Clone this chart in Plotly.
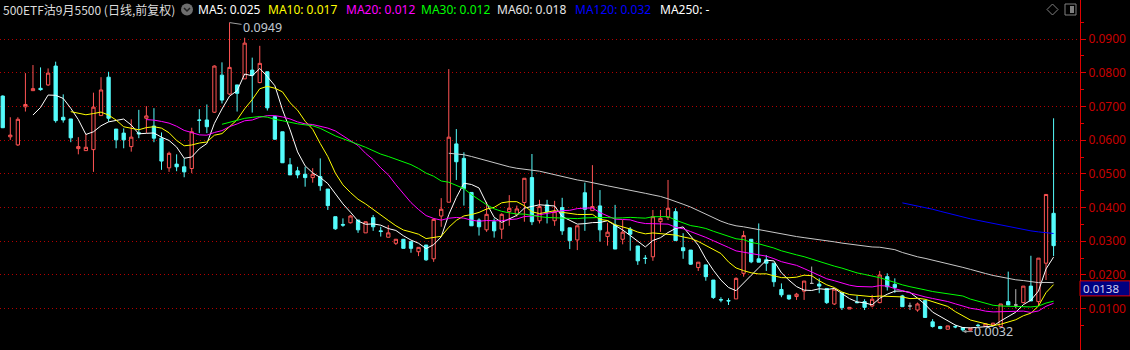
import pandas as pd
import plotly.graph_objects as go

# ---------------- data ----------------
opens = [0.0731, 0.0610, 0.0586, 0.0699, 0.0747, 0.0754, 0.0764, 0.0820, 0.0668, 0.0663,
         0.0575, 0.0569, 0.0572, 0.0673, 0.0787, 0.0633, 0.0621, 0.0581, 0.0622, 0.0665,
         0.0642, 0.0606, 0.0518, 0.0529, 0.0521, 0.0516, 0.0660, 0.0660, 0.0683, 0.0793,
         0.0737, 0.0764, 0.0782, 0.0808, 0.0771, 0.0803, 0.0670, 0.0625, 0.0527, 0.0509,
         0.0499, 0.0489, 0.0492, 0.0455, 0.0373, 0.0350, 0.0355, 0.0363, 0.0325, 0.0370,
         0.0331, 0.0312, 0.0294, 0.0306, 0.0299, 0.0269, 0.0289, 0.0248, 0.0375, 0.0416,
         0.0589, 0.0546, 0.0445, 0.0363, 0.0334, 0.0358, 0.0336, 0.0388, 0.0380, 0.0415,
         0.0489, 0.0361, 0.0408, 0.0361, 0.0400, 0.0340, 0.0304, 0.0444, 0.0391, 0.0405,
         0.0314, 0.0348, 0.0306, 0.0336, 0.0286, 0.0250, 0.0254, 0.0358, 0.0371, 0.0388,
         0.0281, 0.0274, 0.0222, 0.0230, 0.0185, 0.0127, 0.0124, 0.0129, 0.0205, 0.0306,
         0.0248, 0.0245, 0.0235, 0.0157, 0.0140, 0.0136, 0.0152, 0.0175, 0.0173, 0.0160,
         0.0114, 0.0147, 0.0099, 0.0119, 0.0121, 0.0108, 0.0118, 0.0195, 0.0172, 0.0138,
         0.0108, 0.0096, 0.0124, 0.0061, 0.0047, 0.0039, 0.0047, 0.0044, 0.0036, 0.0051,
         0.0047, 0.0050, 0.0047, 0.0121, 0.0111, 0.0118, 0.0167, 0.0121, 0.0235, 0.0383]
highs = [0.0733, 0.0668, 0.0668, 0.0799, 0.0823, 0.0816, 0.0813, 0.0833, 0.0736, 0.0663,
         0.0609, 0.0618, 0.0741, 0.0787, 0.0803, 0.0633, 0.0635, 0.0662, 0.0690, 0.0701,
         0.0695, 0.0623, 0.0566, 0.0558, 0.0546, 0.0637, 0.0692, 0.0706, 0.0822, 0.0831,
         0.0949, 0.0764, 0.0904, 0.0845, 0.0880, 0.0803, 0.0670, 0.0625, 0.0547, 0.0521,
         0.0521, 0.0517, 0.0546, 0.0455, 0.0373, 0.0368, 0.0378, 0.0363, 0.0358, 0.0378,
         0.0343, 0.0348, 0.0307, 0.0306, 0.0299, 0.0282, 0.0289, 0.0368, 0.0428, 0.0811,
         0.0633, 0.0564, 0.0446, 0.0368, 0.0417, 0.0368, 0.0383, 0.0437, 0.0406, 0.0487,
         0.0559, 0.0423, 0.0423, 0.0420, 0.0429, 0.0340, 0.0346, 0.0474, 0.0526, 0.0452,
         0.0355, 0.0408, 0.0363, 0.0342, 0.0286, 0.0259, 0.0393, 0.0393, 0.0482, 0.0398,
         0.0324, 0.0274, 0.0238, 0.0230, 0.0185, 0.0134, 0.0131, 0.0193, 0.0331, 0.0306,
         0.0353, 0.0259, 0.0235, 0.0175, 0.0140, 0.0147, 0.0182, 0.0225, 0.0190, 0.0160,
         0.0158, 0.0147, 0.0104, 0.0138, 0.0128, 0.0141, 0.0212, 0.0205, 0.0190, 0.0141,
         0.0118, 0.0118, 0.0124, 0.0069, 0.0049, 0.0049, 0.0052, 0.0045, 0.0043, 0.0055,
         0.0055, 0.0058, 0.0114, 0.0210, 0.0158, 0.0167, 0.0257, 0.0250, 0.0439, 0.0665]
lows = [0.0636, 0.0601, 0.0583, 0.0685, 0.0747, 0.0747, 0.0761, 0.0652, 0.0652, 0.0594,
        0.0558, 0.0569, 0.0506, 0.0673, 0.0655, 0.0576, 0.0576, 0.0566, 0.0606, 0.0621,
        0.0594, 0.0512, 0.0506, 0.0508, 0.0490, 0.0502, 0.0621, 0.0621, 0.0681, 0.0709,
        0.0734, 0.0685, 0.0782, 0.0682, 0.0769, 0.0688, 0.0601, 0.0533, 0.0497, 0.0487,
        0.0462, 0.0474, 0.0450, 0.0393, 0.0334, 0.0343, 0.0353, 0.0325, 0.0325, 0.0331,
        0.0314, 0.0312, 0.0289, 0.0279, 0.0266, 0.0256, 0.0242, 0.0239, 0.0343, 0.0416,
        0.0482, 0.0406, 0.0346, 0.0317, 0.0328, 0.0311, 0.0307, 0.0346, 0.0373, 0.0358,
        0.0348, 0.0353, 0.0353, 0.0346, 0.0319, 0.0277, 0.0274, 0.0331, 0.0391, 0.0299,
        0.0287, 0.0277, 0.0291, 0.0272, 0.0230, 0.0233, 0.0242, 0.0328, 0.0363, 0.0302,
        0.0248, 0.0230, 0.0212, 0.0183, 0.0129, 0.0119, 0.0111, 0.0129, 0.0195, 0.0235,
        0.0238, 0.0212, 0.0165, 0.0134, 0.0126, 0.0126, 0.0126, 0.0175, 0.0146, 0.0114,
        0.0111, 0.0096, 0.0099, 0.0116, 0.0096, 0.0104, 0.0116, 0.0154, 0.0147, 0.0106,
        0.0096, 0.0091, 0.0074, 0.0044, 0.0039, 0.0039, 0.0042, 0.0032, 0.0035, 0.0042,
        0.0047, 0.0049, 0.0047, 0.0111, 0.0101, 0.0116, 0.0123, 0.0108, 0.0185, 0.0256]
closes = [0.0637, 0.0615, 0.0662, 0.0706, 0.0753, 0.0750, 0.0799, 0.0658, 0.0660, 0.0607,
          0.0581, 0.0579, 0.0698, 0.0749, 0.0665, 0.0601, 0.0601, 0.0609, 0.0619, 0.0672,
          0.0606, 0.0538, 0.0561, 0.0521, 0.0506, 0.0625, 0.0659, 0.0640, 0.0820, 0.0719,
          0.0816, 0.0739, 0.0888, 0.0793, 0.0828, 0.0696, 0.0603, 0.0533, 0.0497, 0.0497,
          0.0489, 0.0499, 0.0465, 0.0406, 0.0337, 0.0348, 0.0375, 0.0334, 0.0358, 0.0343,
          0.0329, 0.0325, 0.0306, 0.0279, 0.0279, 0.0282, 0.0245, 0.0365, 0.0395, 0.0609,
          0.0536, 0.0457, 0.0346, 0.0343, 0.0380, 0.0331, 0.0380, 0.0398, 0.0396, 0.0487,
          0.0358, 0.0403, 0.0388, 0.0388, 0.0331, 0.0302, 0.0346, 0.0395, 0.0403, 0.0334,
          0.0327, 0.0277, 0.0327, 0.0321, 0.0242, 0.0249, 0.0373, 0.0368, 0.0398, 0.0302,
          0.0272, 0.0232, 0.0238, 0.0195, 0.0133, 0.0126, 0.0123, 0.0190, 0.0317, 0.0239,
          0.0238, 0.0235, 0.0180, 0.0141, 0.0129, 0.0143, 0.0182, 0.0175, 0.0167, 0.0118,
          0.0158, 0.0103, 0.0104, 0.0118, 0.0104, 0.0128, 0.0200, 0.0165, 0.0163, 0.0106,
          0.0108, 0.0114, 0.0074, 0.0047, 0.0041, 0.0049, 0.0046, 0.0037, 0.0042, 0.0050,
          0.0055, 0.0057, 0.0114, 0.0111, 0.0111, 0.0167, 0.0123, 0.0250, 0.0439, 0.0287]

ma_periods = [5, 10, 20, 30, 60, 120, 250]
ma_colors = ["#FFFFFF", "#FFFF00", "#FF00FF", "#00FF00", "#C8C8C8", "#0000FF", "#FFFFFF"]
header_title = "500ETF沽9月5500 (日线,前复权)"
header_labels = ["MA5: 0.025", "MA10: 0.017", "MA20: 0.012", "MA30: 0.012",
                 "MA60: 0.018", "MA120: 0.032", "MA250: -"]
price_ticks = [0.01, 0.02, 0.03, 0.04, 0.05, 0.06, 0.07, 0.08, 0.09]
price_minor_ticks = [0.005, 0.015, 0.025, 0.035, 0.045, 0.055, 0.065, 0.075, 0.085, 0.095]
price_tick_labels = ["0.0100", "0.0200", "0.0300", "0.0400", "0.0500",
                     "0.0600", "0.0700", "0.0800", "0.0900"]
marker_price = 0.0138
marker_label = "0.0138"

# ---------------- styling / layout constants ----------------
W, H = 1130, 350
PLOT_R = 1080
RED = "#FF5454"
CYAN = "#54FCFC"
GRAY = "#B4B4B4"
AXIS_RED = "#E00000"
FONT = "Noto Sans, Noto Sans CJK SC, sans-serif"
CJK_FONT = "Noto Sans CJK SC, Noto Sans, sans-serif"


def px(x):
    return x / PLOT_R


def py(y):
    return 1 - y / H


df = pd.DataFrame(dict(o=opens, h=highs, l=lows, c=closes))
df["i"] = range(len(df))
flat = df["o"] == df["c"]
moving = df[~flat]
dojis = df[flat]

fig = go.Figure()
fig.add_trace(go.Candlestick(
    x=moving["i"], open=moving["o"], high=moving["h"], low=moving["l"], close=moving["c"],
    increasing=dict(line=dict(color=RED, width=1), fillcolor="#000000"),
    decreasing=dict(line=dict(color=CYAN, width=1), fillcolor=CYAN),
    whiskerwidth=0, showlegend=False))
fig.add_trace(go.Candlestick(
    x=dojis["i"], open=dojis["o"], high=dojis["h"], low=dojis["l"], close=dojis["c"],
    increasing=dict(line=dict(color=GRAY, width=1), fillcolor=GRAY),
    decreasing=dict(line=dict(color=GRAY, width=1), fillcolor=GRAY),
    whiskerwidth=0, showlegend=False))

for n, col in zip(ma_periods, ma_colors):
    ma = df["c"].rolling(n).mean()
    if ma.notna().any():
        fig.add_trace(go.Scatter(x=df["i"], y=ma, mode="lines",
                                 line=dict(color=col, width=1), showlegend=False,
                                 hoverinfo="skip"))

span = PLOT_R / 7.56
x0 = -2.74 / 7.56
fig.update_layout(
    width=W, height=H,
    margin=dict(l=0, r=W - PLOT_R, t=0, b=0, pad=0),
    paper_bgcolor="#000000", plot_bgcolor="#000000",
    showlegend=False, boxgap=0.38,
    font=dict(family=FONT, size=12, color="#FFFFFF"),
    xaxis=dict(range=[x0, x0 + span], visible=False, showgrid=False, zeroline=False,
               rangeslider=dict(visible=False)),
    yaxis=dict(side="right", range=[-0.00226, 0.101602],
               tickvals=price_ticks, ticktext=price_tick_labels,
               showgrid=True, gridcolor="#B40000", gridwidth=1, griddash="1px,3px",
               zeroline=False, showline=True, linecolor=AXIS_RED, linewidth=1,
               ticks="outside", ticklen=5, tickwidth=1, tickcolor=AXIS_RED,
               tickfont=dict(family=FONT, size=12, color="#C80000"),
               minor=dict(tickvals=price_minor_ticks, ticks="outside", ticklen=3,
                          tickwidth=1, tickcolor=AXIS_RED, showgrid=False)),
)

# header
header_x = [197, 267, 345, 420, 496, 574, 659]
header_col = ["#FFFFFF", "#FFFF00", "#FF00FF", "#00FF00", "#E6E6E6", "#0000FF", "#FFFFFF"]
fig.add_annotation(x=px(2), y=py(9.5), xref="paper", yref="paper", text=header_title,
                   showarrow=False, xanchor="left", yanchor="middle", borderpad=0,
                   font=dict(family=CJK_FONT, size=12, color="#DCDCDC"))
for t, xx, cc in zip(header_labels, header_x, header_col):
    fig.add_annotation(x=px(xx), y=py(9.5), xref="paper", yref="paper", text=t,
                       showarrow=False, xanchor="left", yanchor="middle", borderpad=0,
                       font=dict(family=FONT, size=12, color=cc))

# header icons
fig.add_shape(type="circle", xref="paper", yref="paper",
              x0=px(181), x1=px(193), y0=py(15.5), y1=py(3.5),
              fillcolor="#6E6E6E", line=dict(width=0))
fig.add_shape(type="path", xref="paper", yref="paper",
              path=f"M {px(184)},{py(8)} L {px(187)},{py(11)} L {px(190)},{py(8)}",
              line=dict(color="#202020", width=1.5))
fig.add_shape(type="path", xref="paper", yref="paper",
              path=(f"M {px(1052.5)},{py(4)} L {px(1058)},{py(9.5)} L {px(1052.5)},{py(15)} "
                    f"L {px(1047)},{py(9.5)} Z"),
              line=dict(color="#808080", width=1))
fig.add_shape(type="rect", xref="paper", yref="paper",
              x0=px(1065), x1=px(1076), y0=py(15), y1=py(4),
              line=dict(color="#808080", width=1))
fig.add_shape(type="rect", xref="paper", yref="paper",
              x0=px(1070), x1=px(1074), y0=py(13), y1=py(6),
              fillcolor="#808080", line=dict(width=0))

# high / low markers
hi_i = int(df["h"].idxmax())
lo_i = int(df["l"].idxmin())
fig.add_annotation(x=hi_i, y=df["h"][hi_i], text=f"{df['h'][hi_i]:.4f}",
                   showarrow=True, arrowhead=0, arrowwidth=1, arrowcolor="#A0A0A0",
                   ax=33, ay=5, standoff=0,
                   font=dict(family=FONT, size=12.5, color="#C0C8D0"))
fig.add_annotation(x=lo_i, y=df["l"][lo_i], text=f"{df['l'][lo_i]:.4f}",
                   showarrow=True, arrowhead=2, arrowsize=0.7, arrowwidth=1,
                   arrowcolor="#A0A0A0", ax=31, ay=0, standoff=0,
                   font=dict(family=FONT, size=12.5, color="#C0C8D0"))

# current price marker on the axis
fig.add_shape(type="rect", xref="paper", yref="y", ysizemode="pixel", yanchor=marker_price,
              x0=1.0, x1=W / PLOT_R, y0=0, y1=15,
              fillcolor="#000080", line=dict(color=AXIS_RED, width=1))
fig.add_annotation(x=px(1082), y=marker_price, xref="paper", yref="y", text=marker_label,
                   showarrow=False, xanchor="left", yanchor="middle", yshift=7.5,
                   borderpad=0, font=dict(family=FONT, size=11.5, color="#D0D0F0"))

fig.write_html("out.html")
